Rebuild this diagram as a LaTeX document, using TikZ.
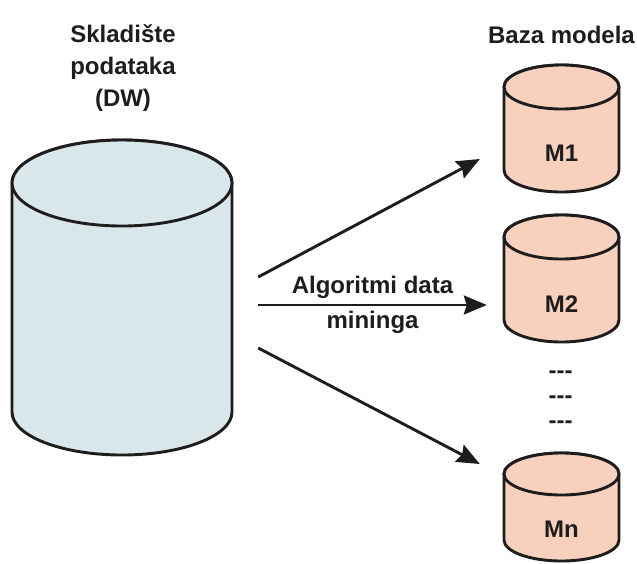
\documentclass[tikz,border=0pt]{standalone}
\usepackage{fontspec}
\setmainfont{Liberation Sans}
\usetikzlibrary{arrows.meta, calc}
\definecolor{PaleBlue}{RGB}{217,230,234}
\definecolor{PaleSalmon}{RGB}{248,208,190}
\definecolor{InkBlack}{RGB}{30,28,28}
\newcommand{\hdr}{\bfseries\fontsize{24}{32}\selectfont}
\newcommand{\flowtxt}{\bfseries\fontsize{24}{35}\selectfont}
% #1 name, #2 x, #3 top centre y, #4 bottom centre y, #5 rx, #6 ry, #7 fill
\newcommand{\dbcyl}[7]{%
  \filldraw[store, fill=#7] (#2-#5,#3) -- (#2-#5,#4)
      arc[start angle=180, end angle=0, x radius=#5, y radius=#6]
      -- (#2+#5,#3) arc[start angle=0, end angle=-180, x radius=#5, y radius=#6] -- cycle;
  \filldraw[store, fill=#7] (#2,#3) ellipse[x radius=#5, y radius=#6];
  \node[inner sep=0pt, minimum width={2*#5}, minimum height={#4-#3+2*#6}]
      (#1) at (#2,{(#3+#4)/2}) {};%
}

\begin{document}
\begin{tikzpicture}[
    x=1pt, y=-1pt,
    font=\hdr, text=InkBlack,
    store/.style={draw=InkBlack, line width=2.9pt, line join=round},
    flow/.style={draw=InkBlack, line width=2.9pt,
        -{Stealth[length=23pt, width=19pt, inset=3pt]}}
]
\useasboundingbox (0,0) rectangle (637,563);

% skladiste
\dbcyl{dw}{122}{183}{412}{110}{43}{PaleBlue}
\node[align=center, anchor=north, inner sep=0pt] (dwname) at (123,24)
    {Skladište\\podataka\\(DW)};

% baza modela
\node[anchor=base] (bazaname) at (561.5,43) {Baza modela};
\dbcyl{m1}{561.5}{87}{170}{57.5}{22}{PaleSalmon}
\node (m1lbl) at (561.5,153.5) {M1};
\dbcyl{m2}{561.5}{237}{320}{57.5}{22}{PaleSalmon}
\node (m2lbl) at (561.5,304.5) {M2};
\node (dots1) at (560.5,375) {-{}-{}-};
\node (dots2) at (560.5,400) {-{}-{}-};
\node (dots3) at (560.5,425) {-{}-{}-};
\dbcyl{mn}{561.5}{474}{540}{57.5}{21}{PaleSalmon}
\node (mnlbl) at (561.5,529.5) {Mn};

% algoritmi
\draw[flow] ([shift={(26,-20.5)}]dw.east) -- ([shift={(-24,30.5)}]m1.west);
\draw[flow] ([shift={(26,7.5)}]dw.east) --
    node[align=center, font=\flowtxt] (algo) {Algoritmi data\\mininga}
    ([shift={(-17,26.5)}]m2.west);
\draw[flow] ([shift={(26,50.5)}]dw.east) -- ([shift={(-24,-43)}]mn.west);

\end{tikzpicture}
\end{document}
